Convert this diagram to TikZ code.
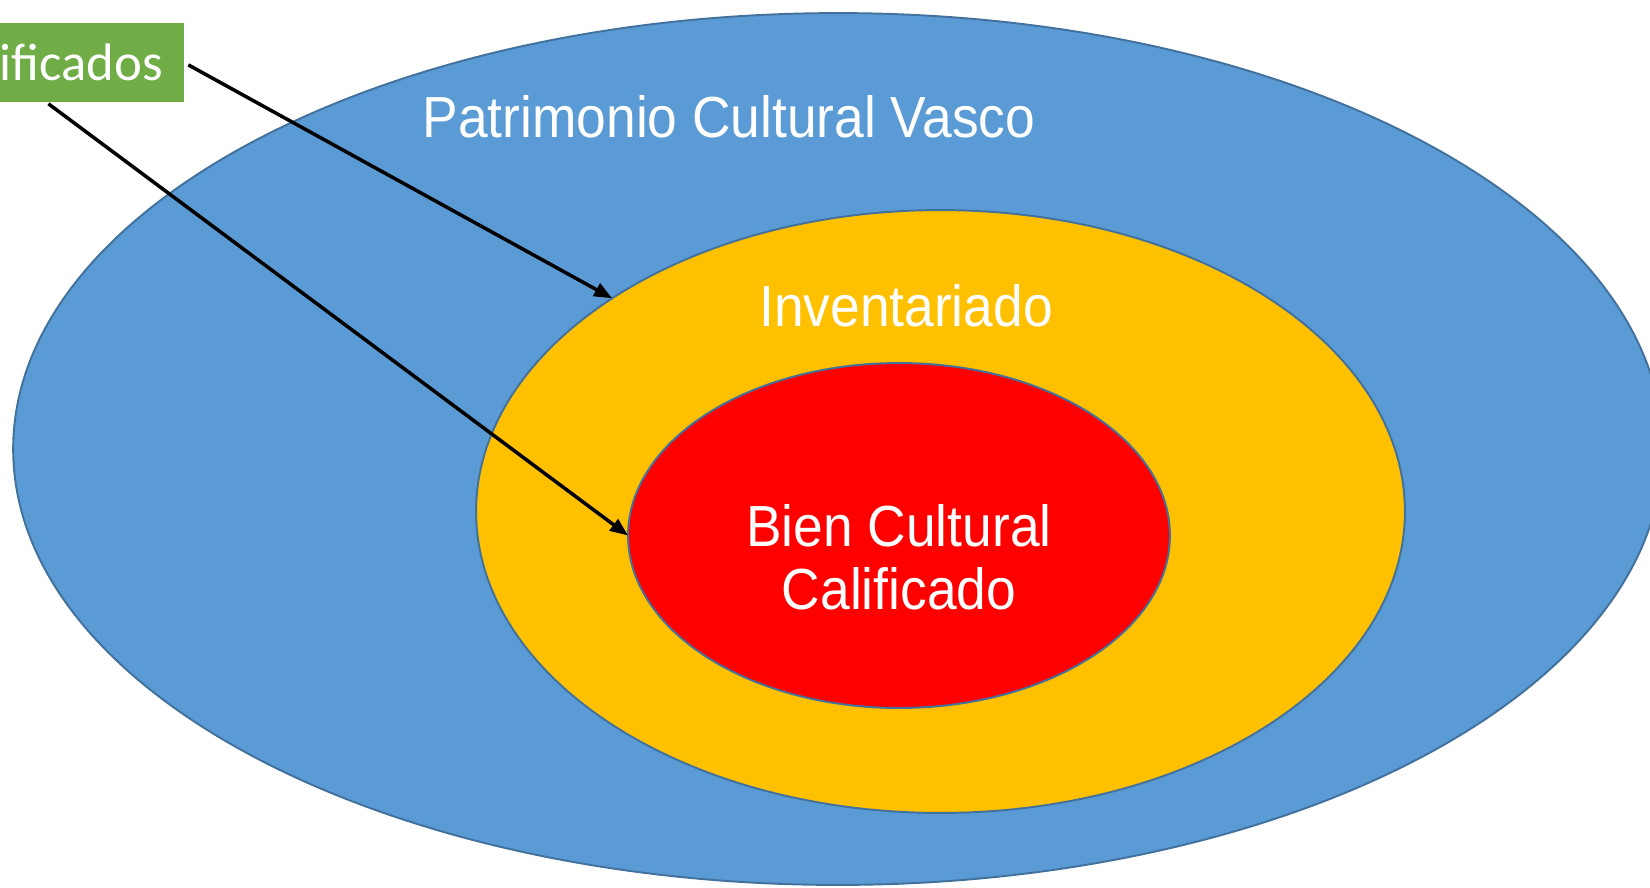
\documentclass[tikz,border=0pt]{standalone}
\usepackage{fontspec}
\setmainfont{Liberation Sans}[FakeStretch=0.92]
\newfontfamily\carlito{Carlito}
\usetikzlibrary{shapes.geometric,arrows.meta}
\definecolor{pcvblue}{HTML}{5B9BD5}
\definecolor{rimblue}{HTML}{41719C}
\definecolor{invyellow}{HTML}{FFC000}
\definecolor{bccred}{HTML}{FF0000}
\definecolor{taggreen}{HTML}{70AD47}
\tikzset{
  oval/.style={ellipse,draw=rimblue,line width=1.1pt,inner sep=0pt,outer sep=0pt},
  lbl/.style={text=white,font=\fontsize{33}{35.8}\selectfont,align=center,inner sep=0pt},
  greentag/.style={fill=taggreen,text=white,font=\carlito\fontsize{30}{32}\selectfont,
    minimum height=1.58cm,inner xsep=0.42cm,outer sep=0pt},
  pointer/.style={line width=2pt,-{Triangle[length=0.36cm,width=0.28cm]}}
}
\begin{document}
\begin{tikzpicture}[x=0.02cm,y=-0.02cm]
\useasboundingbox (0,0) rectangle (1650,887);
\clip (0,0) rectangle (1650,887);
% ovals
\node[oval,fill=pcvblue,minimum width=33cm,minimum height=17.44cm] (pcv) at (838,449) {};
\node[oval,fill=invyellow,minimum width=18.58cm,minimum height=12.06cm] (inv) at (940.5,511.5) {};
\node[oval,fill=bccred,minimum width=10.84cm,minimum height=6.9cm] (bcc) at (899,535.5) {};
% labels
\node[lbl,anchor=base] (pcvtext) at (729,137) {Patrimonio Cultural Vasco};
\node[lbl,anchor=base] (invtext) at (906,326) {Inventariado};
\node[lbl] (bcctext) at (899,557) {Bien Cultural\\Calificado};
% green tag, cut by the left edge
\node[greentag,anchor=east] (tag) at (184,62.5) {ificados};
% arrows
\draw[pointer,shorten <=0.1cm] (tag.east) -- (inv.147);
\draw[pointer,shorten <=0.06cm] ([xshift=-2.76cm]tag.south east) -- (bcc.west);
\end{tikzpicture}
\end{document}
